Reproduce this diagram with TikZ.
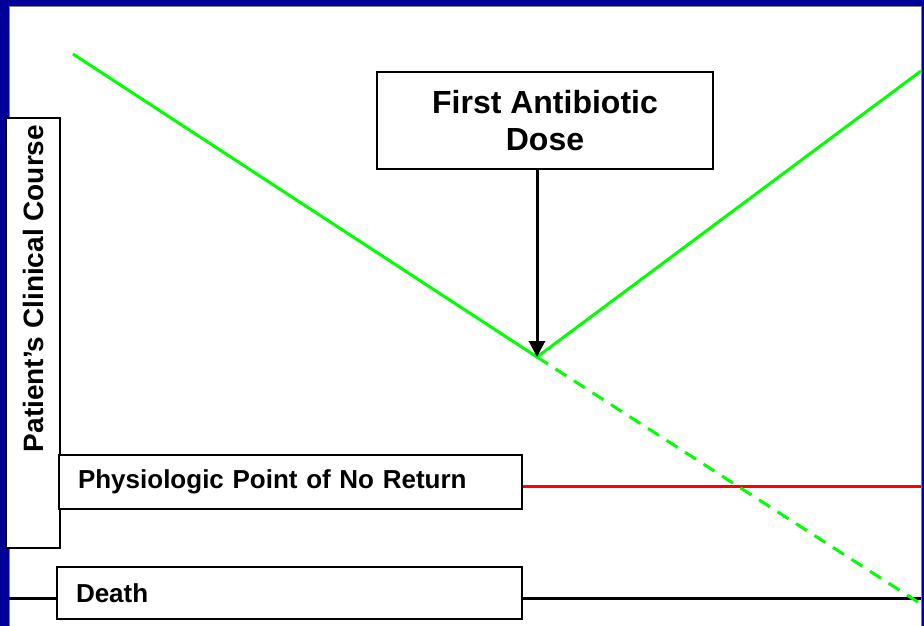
\documentclass[tikz,border=0pt]{standalone}
\usepackage{fontspec}
\setmainfont{Liberation Sans}
\usetikzlibrary{arrows.meta}
\definecolor{frameblue}{HTML}{000099}
\definecolor{panelgray}{HTML}{808080}
\definecolor{curvegreen}{HTML}{00FF00}
\definecolor{limitred}{HTML}{FF0000}
\begin{document}
\begin{tikzpicture}[x=1pt,y=-1pt,
  labelbox/.style={draw=black, line width=1.5pt, fill=white, inner sep=0pt},
  leftlabel/.style={labelbox, inner xsep=19pt, text width=425pt, align=left, minimum height=54pt,
    font=\bfseries\fontsize{26}{30}\selectfont},
  course/.style={line width=3pt, draw=curvegreen},
  level/.style={line width=3pt}]
\useasboundingbox (0,0) rectangle (924,626);
\fill[frameblue] (0,0) rectangle (924,626);
\draw[panelgray, fill=white, line width=1pt] (9,7) rectangle (921,627);

% coordinates
\coordinate (start) at (73,54);
\coordinate (vertex) at (537,357);
\coordinate (upend) at (921,71);
\coordinate (downend) at (921,604);
\coordinate (redend) at (921,486);
\coordinate (deathL) at (9,598);
\coordinate (deathR) at (921,598);

% nodes
\node[labelbox, minimum width=336pt, minimum height=97pt, align=center,
  font=\bfseries\fontsize{32}{37}\selectfont] (dose) at (545,120.5) {First Antibiotic\\Dose};
\node[labelbox, minimum width=54pt, minimum height=430pt] (axisbox) at (33,333) {};
\node[rotate=90, font=\bfseries\fontsize{28}{30}\selectfont, inner sep=0pt] (axistext) at (33,288.5) {Patient’s Clinical Course};

% levels
\draw[level, limitred] (redend -| 522,0) -- (redend);
\draw[level, black] (deathL) -- (deathL -| 57,0);
\draw[level, black] (deathR -| 522,0) -- (deathR);

\node[leftlabel, text width=425pt] (phys) at (290.5,482) {Physiologic Point of No Return};
\node[leftlabel, text width=427pt, minimum height=52pt] (death) at (289.5,593) {Death};

% clinical course
\draw[course] (start) -- (vertex) -- (upend);
\draw[course, dash pattern=on 13pt off 9pt] (vertex) -- (downend);

% arrow
\draw[line width=3pt, -{Triangle[length=16pt,width=16pt]}] (vertex |- dose.south) -- (vertex);
\end{tikzpicture}
\end{document}
